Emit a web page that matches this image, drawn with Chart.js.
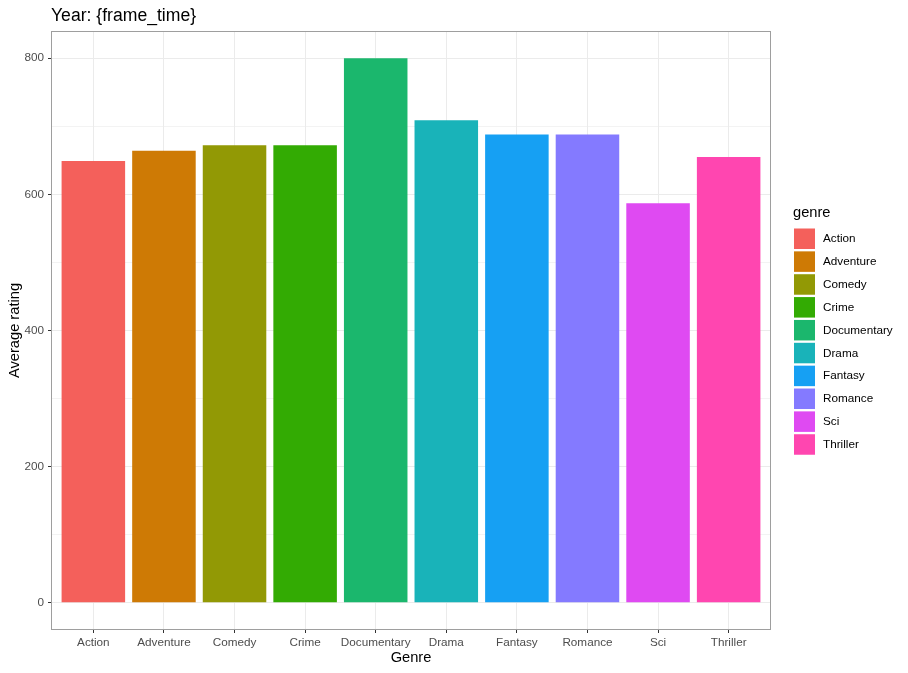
<!DOCTYPE html>
<html>
<head>
<meta charset="utf-8">
<script src="https://cdn.jsdelivr.net/npm/chart.js@4"></script>
<style>
  body { margin: 0; background: #fff; }
  #wrap { width: 908px; height: 673px; }
</style>
</head>
<body>
<div id="wrap"><canvas id="chart" width="908" height="673"></canvas></div>
<script>
// data
const genres = ['Action', 'Adventure', 'Comedy', 'Crime', 'Documentary', 'Drama', 'Fantasy', 'Romance', 'Sci', 'Thriller'];
const ratings = [649, 664, 672, 672, 800, 709, 688, 688, 587, 655];
const colors = ['#F4605B', '#CE7A05', '#929905', '#33AB03', '#1BB76D', '#19B3B9', '#16A0F3', '#847AFF', '#DF4AF2', '#FF46B0'];
const yTicks = [0, 100, 200, 300, 400, 500, 600, 700, 800];
const titleText = 'Year: {frame_time}';
const legendTitle = 'genre';

const FONT = 'Liberation Sans, Arial, Helvetica, sans-serif';

// panel border, plot title and the legend on the right
const extras = {
  id: 'extras',
  afterDraw(chart) {
    const ctx = chart.ctx;
    const a = chart.chartArea;
    ctx.save();
    ctx.strokeStyle = '#9e9e9e';
    ctx.lineWidth = 1;
    ctx.strokeRect(Math.round(a.left) + 0.5, Math.round(a.top) + 0.5,
      Math.round(a.right - a.left) - 1, Math.round(a.bottom - a.top) - 1);

    ctx.fillStyle = '#000';
    ctx.textAlign = 'left';
    ctx.textBaseline = 'alphabetic';
    ctx.font = '17.6px ' + FONT;
    ctx.fillText(titleText, 51, 21);

    ctx.font = '14.67px ' + FONT;
    ctx.fillText(legendTitle, 793, 217);
    ctx.font = '11.73px ' + FONT;
    ctx.textBaseline = 'middle';
    genres.forEach((g, i) => {
      const top = 228.5 + i * 22.86;
      ctx.fillStyle = colors[i];
      ctx.fillRect(794, top, 21, 20.5);
      ctx.fillStyle = '#000';
      ctx.fillText(g, 823, top + 10.5);
    });
    ctx.restore();
  }
};

new Chart(document.getElementById('chart'), {
  type: 'bar',
  data: {
    datasets: [{
      label: 'Average rating',
      data: genres.map((g, i) => ({ x: i + 1, y: ratings[i] })),
      backgroundColor: colors,
      borderWidth: 0,
      barPercentage: 0.9,
      categoryPercentage: 1.0
    }]
  },
  options: {
    responsive: false,
    animation: false,
    devicePixelRatio: 1,
    layout: { padding: { top: 31, right: 137, left: 0, bottom: 0 } },
    plugins: {
      legend: { display: false },
      tooltip: { enabled: false },
      title: { display: false }
    },
    scales: {
      x: {
        type: 'linear',
        min: 0.4,
        max: 10.6,
        offset: false,
        afterBuildTicks: (s) => { s.ticks = genres.map((g, i) => ({ value: i + 1 })); },
        afterFit: (s) => { s.height = 43; },
        border: { display: false },
        grid: { offset: false, color: '#ebebeb', lineWidth: 1, tickColor: '#333333', tickLength: 3 },
        ticks: {
          padding: 3,
          color: '#4d4d4d',
          font: { family: FONT, size: 11.73 },
          maxRotation: 0,
          autoSkip: false,
          callback: (v) => genres[v - 1]
        },
        title: {
          display: true,
          text: 'Genre',
          color: '#000',
          font: { family: FONT, size: 14.67 },
          padding: { top: 0, bottom: 6 }
        }
      },
      y: {
        min: -40,
        max: 840,
        afterBuildTicks: (s) => { s.ticks = yTicks.map(v => ({ value: v })); },
        afterFit: (s) => { s.width = 51; },
        border: { display: false },
        grid: {
          color: '#ebebeb',
          lineWidth: (c) => (c.tick && c.tick.value % 200 === 0) ? 1 : 0.6,
          tickColor: (c) => (c.tick && c.tick.value % 200 === 0) ? '#333333' : 'rgba(0,0,0,0)',
          tickLength: 3
        },
        ticks: {
          padding: 4,
          color: '#4d4d4d',
          font: { family: FONT, size: 11.73 },
          autoSkip: false,
          callback: (v) => (v % 200 === 0 ? String(v) : '')
        },
        title: {
          display: true,
          text: 'Average rating',
          color: '#000',
          font: { family: FONT, size: 14.67 },
          padding: { top: 6, bottom: 0 }
        }
      }
    }
  },
  plugins: [extras]
});
</script>
</body>
</html>
